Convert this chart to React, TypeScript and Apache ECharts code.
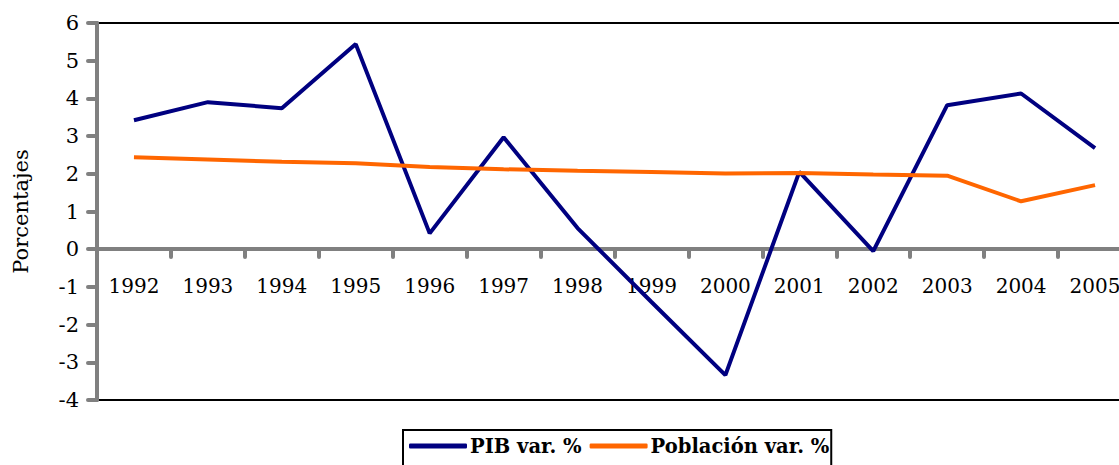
import React, { useEffect, useRef } from "react";
import * as echarts from "echarts";

const years = ["1992", "1993", "1994", "1995", "1996", "1997", "1998", "1999", "2000", "2001", "2002", "2003", "2004", "2005"];
const pib = [3.42, 3.9, 3.74, 5.44, 0.42, 2.97, 0.56, -1.4, -3.34, 2.05, -0.05, 3.82, 4.13, 2.68];
const poblacion = [2.44, 2.38, 2.32, 2.28, 2.18, 2.12, 2.08, 2.05, 2.01, 2.02, 1.98, 1.95, 1.27, 1.7];
const seriesNames = ["PIB var. %", "Población var. %"];
const yAxisName = "Porcentajes";

const FONT = "DejaVu Serif";

export default function App() {
  const ref = useRef<HTMLDivElement>(null);
  useEffect(() => {
    if (!ref.current) return;
    const chart = echarts.init(ref.current, null, { renderer: "svg" });
    chart.setOption({
      animation: false,
      backgroundColor: "#fff",
      textStyle: { fontFamily: FONT },
      grid: {
        left: 97,
        top: 23,
        right: -13,
        bottom: 65,
        show: true,
        borderColor: "#000",
        borderWidth: 2,
        containLabel: false,
        outerBoundsMode: "none",
      },
      legend: {
        data: seriesNames,
        left: 403,
        top: 430,
        padding: [6, 2, 10, 6],
        itemGap: 8,
        itemWidth: 58,
        itemHeight: 5,
        icon: "roundRect",
        borderColor: "#000",
        borderWidth: 2,
        textStyle: { fontFamily: FONT, fontWeight: "bold", fontSize: 19.5, color: "#000", padding: [0, 0, 0, -2] },
      },
      xAxis: {
        type: "category",
        data: years,
        boundaryGap: true,
        offset: -151,
        axisLine: { onZero: false, lineStyle: { color: "#808080", width: 4 } },
        axisTick: { show: true, interval: 0, length: 8, lineStyle: { color: "#808080", width: 4, cap: "round" } },
        axisLabel: { interval: 0, margin: 27, fontFamily: FONT, fontSize: 20, color: "#000" },
        splitLine: { show: false },
      },
      yAxis: {
        type: "value",
        min: -4,
        max: 6,
        interval: 1,
        name: yAxisName,
        nameLocation: "middle",
        nameGap: 66,
        nameTextStyle: { fontFamily: FONT, fontSize: 21, color: "#000" },
        axisLine: { show: true, lineStyle: { color: "#808080", width: 4 } },
        axisTick: { show: true, length: 9, lineStyle: { color: "#808080", width: 4, cap: "round" } },
        axisLabel: { margin: 18, fontFamily: FONT, fontSize: 21, color: "#000" },
        splitLine: { show: false },
      },
      series: [
        {
          name: seriesNames[0],
          type: "line",
          data: pib,
          symbol: "none",
          lineStyle: { color: "#000080", width: 4 },
          itemStyle: { color: "#000080" },
        },
        {
          name: seriesNames[1],
          type: "line",
          data: poblacion,
          symbol: "none",
          lineStyle: { color: "#FF6600", width: 4 },
          itemStyle: { color: "#FF6600" },
        },
      ],
    });
    return () => chart.dispose();
  }, []);
  return <div ref={ref} style={{ position: "fixed", left: 0, top: 0, width: 1119, height: 465 }} />;
}
